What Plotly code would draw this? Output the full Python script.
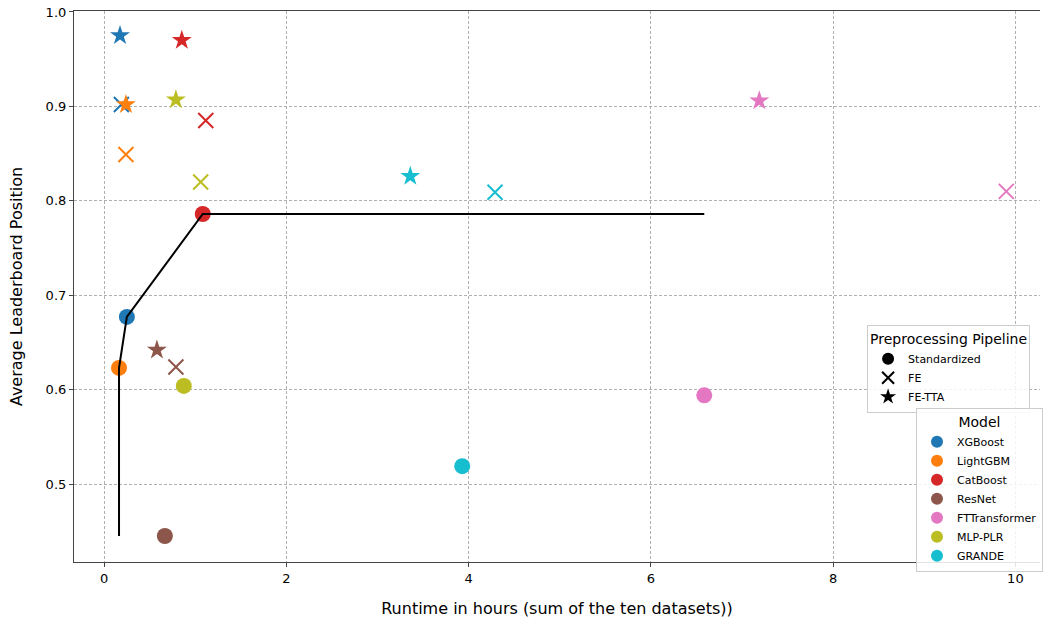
import plotly.graph_objects as go

models = ["XGBoost", "LightGBM", "CatBoost", "ResNet", "FTTransformer", "MLP-PLR", "GRANDE"]
colors = ["#1f77b4", "#ff7f0e", "#d62728", "#8c564b", "#e377c2", "#bcbd22", "#17becf"]

# Standardized
std_x = [0.25, 0.164, 1.083, 0.667, 6.586, 0.875, 3.93]
std_y = [0.677, 0.623, 0.786, 0.445, 0.594, 0.604, 0.519]
# FE
fe_x = [0.19, 0.24, 1.116, 0.788, 9.90, 1.06, 4.29]
fe_y = [0.902, 0.849, 0.885, 0.624, 0.810, 0.820, 0.809]
# FE-TTA
tta_x = [0.175, 0.24, 0.853, 0.58, 7.19, 0.788, 3.36]
tta_y = [0.975, 0.902, 0.970, 0.642, 0.906, 0.907, 0.826]

# Pareto front line
front_x = [0.164, 0.164, 0.25, 1.083, 6.586]
front_y = [0.445, 0.623, 0.677, 0.786, 0.786]

pipelines = ["Standardized", "FE", "FE-TTA"]
symbols = ["circle", "x-thin", "star"]

fig = go.Figure()

font = "DejaVu Sans"

for i, m in enumerate(models):
    c = colors[i]
    fig.add_trace(go.Scatter(x=[std_x[i]], y=[std_y[i]], mode="markers", showlegend=False,
                             marker=dict(symbol="circle", size=16, color=c)))
    fig.add_trace(go.Scatter(x=[fe_x[i]], y=[fe_y[i]], mode="markers", showlegend=False,
                             marker=dict(symbol="x-thin", size=15, color=c, line=dict(color=c, width=2))))
    fig.add_trace(go.Scatter(x=[tta_x[i]], y=[tta_y[i]], mode="markers", showlegend=False,
                             marker=dict(symbol="star", size=15, color=c, line=dict(width=0))))

fig.add_trace(go.Scatter(x=front_x, y=front_y, mode="lines", showlegend=False,
                         line=dict(color="black", width=2)))

# Legend entries: preprocessing pipeline
for p, s in zip(pipelines, symbols):
    fig.add_trace(go.Scatter(x=[None], y=[None], mode="markers", name=p, legend="legend",
                             marker=dict(symbol=s, size=15, color="black",
                                         line=dict(color="black", width=1.5 if s == "x-thin" else 0))))
# Legend entries: model
for m, c in zip(models, colors):
    fig.add_trace(go.Scatter(x=[None], y=[None], mode="markers", name=m, legend="legend2",
                             marker=dict(symbol="circle", size=16, color=c)))

axis_common = dict(
    showgrid=True, gridcolor="#b0b0b0", griddash="3px,2px", gridwidth=0.7,
    zeroline=False, showline=True, linecolor="#444", linewidth=1.2,
    ticks="outside", ticklen=4, tickcolor="#444", automargin=False,
    ticklabeloverflow="allow",
    tickfont=dict(family=font, size=13, color="black"),
)

fig.update_layout(
    width=1043, height=620,
    margin=dict(l=74, r=0, t=11, b=58),
    paper_bgcolor="white", plot_bgcolor="white",
    font=dict(family=font, color="black"),
    xaxis=dict(range=[-0.33, 10.27], tickvals=[0, 2, 4, 6, 8, 10], mirror=True,
               title=dict(text="Runtime in hours (sum of the ten datasets))", font=dict(family=font, size=16), standoff=18),
               **axis_common),
    yaxis=dict(range=[0.4175, 1.001], tickvals=[0.5, 0.6, 0.7, 0.8, 0.9, 1.0], tickformat=".1f",
               title=dict(text="Average Leaderboard Position", font=dict(family=font, size=16), standoff=19),
               **axis_common),
    legend=dict(title=dict(text="Preprocessing Pipeline", side="top center", font=dict(family=font, size=14)),
                x=0.821, y=0.43, xanchor="left", yanchor="top",
                bgcolor="rgba(255,255,255,0.85)", bordercolor="#cccccc", borderwidth=1,
                font=dict(family=font, size=11), itemsizing="constant", tracegroupgap=0),
    legend2=dict(title=dict(text="Model", side="top center", font=dict(family=font, size=14)),
                 x=0.872, y=0.2795, xanchor="left", yanchor="top",
                 bgcolor="rgba(255,255,255,0.85)", bordercolor="#cccccc", borderwidth=1,
                 font=dict(family=font, size=11), itemsizing="constant", tracegroupgap=0),
)

fig.write_html("out.html", config={"displayModeBar": False},
               post_script="document.body.style.margin='0';")
